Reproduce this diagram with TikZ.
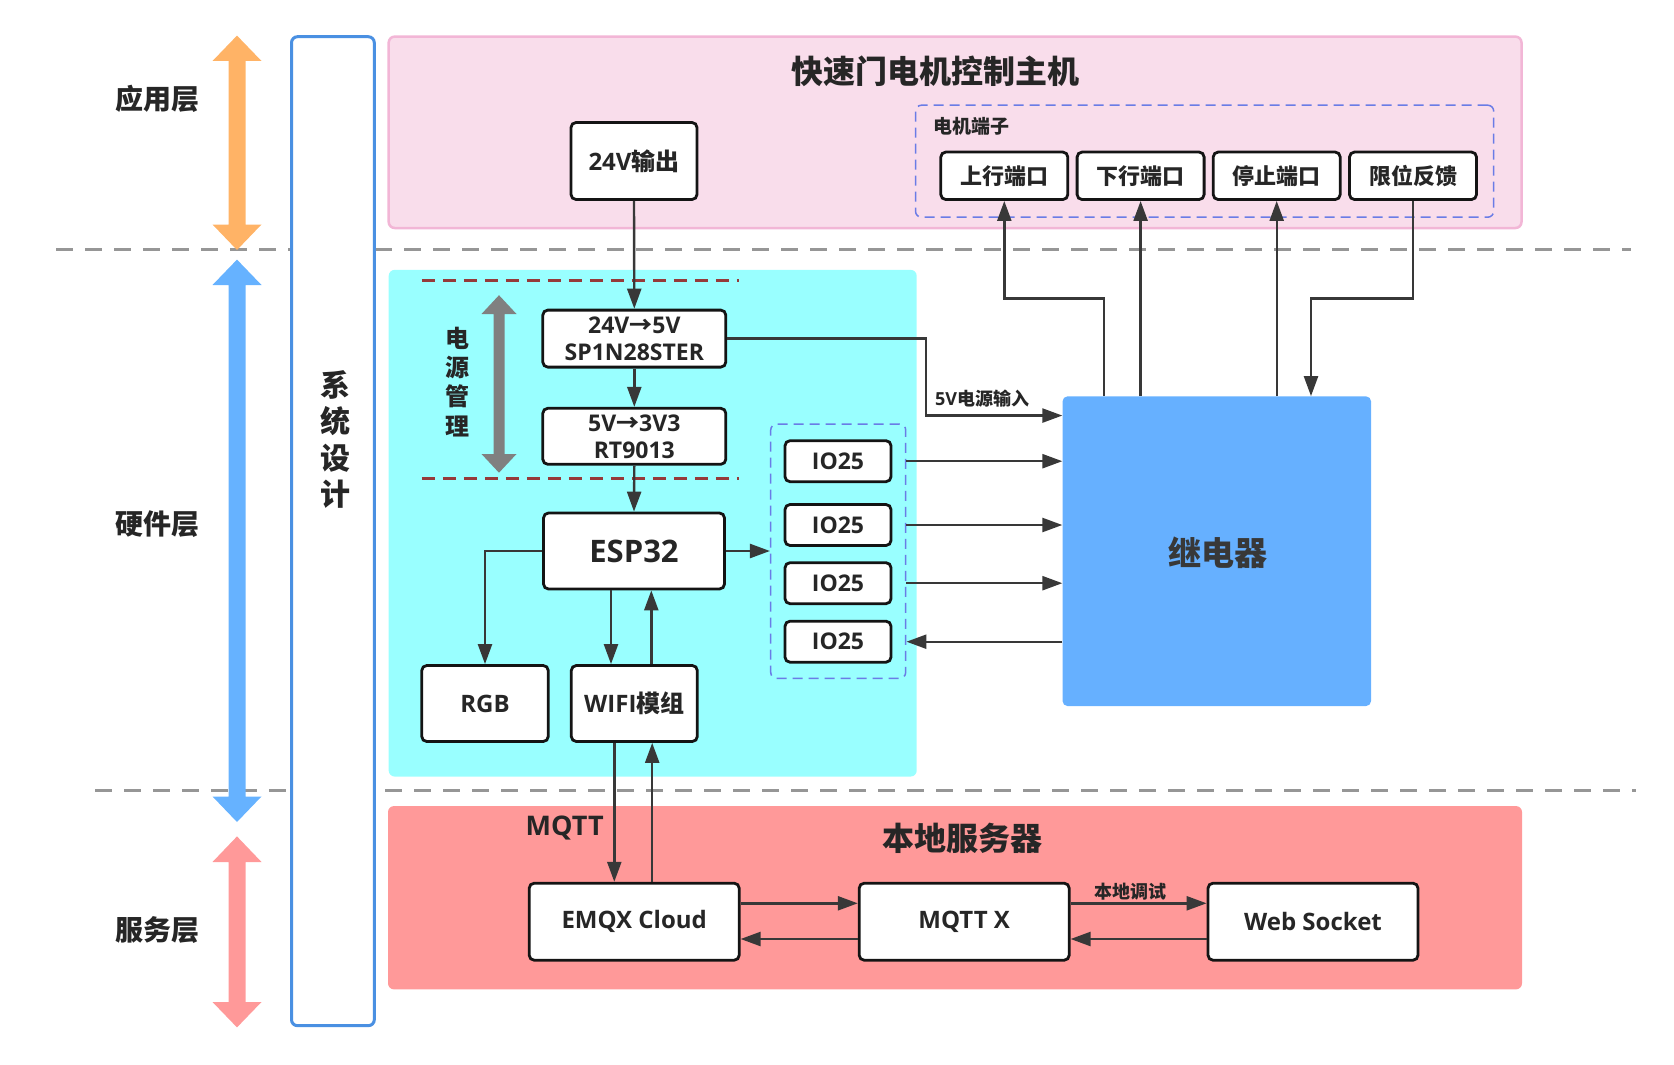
\documentclass[tikz,border=0pt]{standalone}
\usepackage{fontspec}
\setmainfont{Open Sans}
\newfontfamily\cjk{Noto Sans CJK SC}
\usetikzlibrary{arrows.meta}
\definecolor{txt}{HTML}{262626}
\definecolor{ln}{HTML}{383838}
\definecolor{pinkfill}{HTML}{F9DDEB}
\definecolor{pinkline}{HTML}{F2B6D6}
\definecolor{cyanfill}{HTML}{99FFFF}
\definecolor{relayblue}{HTML}{66B0FF}
\definecolor{redfill}{HTML}{FF9999}
\definecolor{orangearr}{HTML}{FFB366}
\definecolor{bluearr}{HTML}{66B2FF}
\definecolor{redarr}{HTML}{FF9999}
\definecolor{sysline}{HTML}{4A90E2}
\definecolor{graydash}{HTML}{969696}
\definecolor{browndash}{HTML}{963A3A}
\definecolor{grpdash}{HTML}{6A7CE6}
\definecolor{grayarr}{HTML}{808080}
\newcommand\myfs[1]{\fontsize{#1}{#1}\selectfont}
\tikzset{
  box/.style={draw=black!92, line width=2.8pt, fill=white, rounded corners=5pt, inner sep=0pt, text=txt},
  conn/.style={draw=ln, line width=2.4pt, -{Triangle[length=20pt,width=14pt]}},
  grpbox/.style={draw=grpdash, line width=1.5pt, dash pattern=on 10pt off 6pt, rounded corners=6pt, inner sep=0pt},
  layerlbl/.style={text=txt, font={\cjk\bfseries\myfs{28}}, inner sep=0pt},
  sepline/.style={draw=graydash, line width=3pt, dash pattern=on 17pt off 12pt},
  pwrline/.style={draw=browndash, line width=3pt, dash pattern=on 13pt off 8pt},
  plain/.style={text=txt, inner sep=0pt}
}
\begin{document}
\begin{tikzpicture}[x=1pt,y=-1pt]
\useasboundingbox (0,0) rectangle (1674,1065);

% layer separators
\draw[sepline] (56,249.4) -- (1631,249.4);
\draw[sepline] (95,790.7) -- (1636,790.7);

% system design column
\node[draw=sysline, line width=3pt, fill=white, rounded corners=6pt, minimum width=82.8pt, minimum height=989pt, inner sep=0pt] (sys) at (332.9,531.2) {};
\node[plain, align=center, font={\cjk\bfseries\fontsize{30}{36.5}\selectfont}] (systxt) at (335,439.5) {系\\统\\设\\计};

% layer arrows
\fill[orangearr] (237,35.6) -- (261.5,61) -- (245.5,61) -- (245.5,224.5) -- (261.5,224.5) -- (237,250) -- (212.5,224.5) -- (228.5,224.5) -- (228.5,61) -- (212.5,61) -- cycle;
\fill[bluearr] (237,259.6) -- (261.5,285) -- (245.5,285) -- (245.5,796.5) -- (261.5,796.5) -- (237,822) -- (212.5,796.5) -- (228.5,796.5) -- (228.5,285) -- (212.5,285) -- cycle;
\fill[redarr] (237,836.4) -- (261.5,862) -- (245.5,862) -- (245.5,1002) -- (261.5,1002) -- (237,1027.4) -- (212.5,1002) -- (228.5,1002) -- (228.5,862) -- (212.5,862) -- cycle;

\node[layerlbl] (lapp) at (157.5,99) {应用层};
\node[layerlbl] (lhw) at (157.5,524) {硬件层};
\node[layerlbl] (lsrv) at (157.5,930) {服务层};

% background panels
\node[draw=pinkline, line width=2.5pt, fill=pinkfill, rounded corners=6pt, minimum width=1132.8pt, minimum height=191.4pt, inner sep=0pt] (host) at (955.1,132.3) {};
\node[fill=cyanfill, rounded corners=6pt, minimum width=528pt, minimum height=506.7pt, inner sep=0pt] (hw) at (652.7,523.2) {};
\node[fill=redfill, rounded corners=6pt, minimum width=1134pt, minimum height=183.3pt, inner sep=0pt] (srv) at (955,897.7) {};

\node[plain, font={\cjk\bfseries\myfs{32}}] (hosttitle) at (935,71) {快速门电机控制主机};
\node[plain, font={\cjk\bfseries\myfs{32}}] (srvtitle) at (962.8,838) {本地服务器};
\node[plain, font={\bfseries\myfs{27}}] (mqttlbl) at (564.7,827.7) {MQTT};

% power management marks
\draw[pwrline] (421.8,280.6) -- (739,280.6);
\draw[pwrline] (421.8,478.3) -- (739,478.3);
\fill[grayarr] (499,295.2) -- (516.5,314) -- (504.5,314) -- (504.5,454) -- (516.5,454) -- (499,472.7) -- (481.5,454) -- (493.5,454) -- (493.5,314) -- (481.5,314) -- cycle;
\node[plain, align=center, font={\cjk\bfseries\fontsize{24}{29.3}\selectfont}] (pwrtxt) at (457,381.7) {电\\源\\管\\理};

% group boxes
\node[grpbox, minimum width=578.2pt, minimum height=112pt] (mgrp) at (1204.6,161.2) {};
\node[plain, font={\cjk\bfseries\myfs{19}}, anchor=west] (mgrplbl) at (933,126.4) {电机端子};
\node[grpbox, minimum width=135pt, minimum height=254.3pt] (iogrp) at (838.2,551.2) {};

% boxes
\node[box, minimum width=126pt, minimum height=77pt, font={\bfseries\myfs{24}}] (out24) at (634,161) {24V{\cjk 输出}};
\node[box, minimum width=183pt, minimum height=57pt, align=center, font={\bfseries\fontsize{23}{27}\selectfont}] (conv1) at (634.3,338.6) {24V{\cjk →}5V\\SP1N28STER};
\node[box, minimum width=183pt, minimum height=56pt, align=center, font={\bfseries\fontsize{23}{27}\selectfont}] (conv2) at (634.3,436.3) {5V{\cjk →}3V3\\RT9013};
\node[box, minimum width=181pt, minimum height=76pt, font={\bfseries\myfs{31}}] (esp) at (634,551) {ESP32};
\node[box, minimum width=126.5pt, minimum height=76pt, font={\bfseries\myfs{24}}] (rgb) at (485,703.5) {RGB};
\node[box, minimum width=126pt, minimum height=76pt, font={\bfseries\myfs{24}}] (wifi) at (634.3,703.5) {WIFI{\cjk 模组}};

\node[box, minimum width=106pt, minimum height=41pt, font={\bfseries\myfs{23}}] (io1) at (838,461.2) {IO25};
\node[box, minimum width=106pt, minimum height=41pt, font={\bfseries\myfs{23}}] (io2) at (838,525) {IO25};
\node[box, minimum width=106pt, minimum height=41pt, font={\bfseries\myfs{23}}] (io3) at (838,583.2) {IO25};
\node[box, minimum width=106pt, minimum height=41pt, font={\bfseries\myfs{23}}] (io4) at (838,641.7) {IO25};

\node[box, minimum width=127pt, minimum height=47.5pt, font={\cjk\bfseries\myfs{22}}] (port1) at (1004.3,175.8) {上行端口};
\node[box, minimum width=127pt, minimum height=47.5pt, font={\cjk\bfseries\myfs{22}}] (port2) at (1140.6,175.8) {下行端口};
\node[box, minimum width=127pt, minimum height=47.5pt, font={\cjk\bfseries\myfs{22}}] (port3) at (1276.7,175.8) {停止端口};
\node[box, minimum width=127pt, minimum height=47.5pt, font={\cjk\bfseries\myfs{22}}] (port4) at (1413,175.8) {限位反馈};

\node[fill=relayblue, rounded corners=5pt, minimum width=308.5pt, minimum height=309.7pt, inner sep=0pt] (relay) at (1216.8,551.2) {};
\node[text=ln, inner sep=0pt, font={\cjk\bfseries\myfs{33}}] (relaytxt) at (1218,553) {继电器};

\node[box, minimum width=210pt, minimum height=77pt, font={\bfseries\myfs{24}}] (emqx) at (634.2,921.7) {EMQX Cloud};
\node[box, minimum width=210pt, minimum height=77pt, font={\bfseries\myfs{24}}] (mqttx) at (964.2,921.7) {MQTT X};
\node[box, minimum width=210pt, minimum height=77pt, font={\bfseries\myfs{24}}] (ws) at (1313,921.7) {Web Socket};

% connectors
\draw[conn] (out24.south) -- (conv1.north);
\draw[conn] (conv1.south) -- (conv2.north);
\draw[conn] (conv2.south) -- (esp.north);

\coordinate (k5v) at (926,338.6);
\draw[conn] (conv1.east) -- (k5v) |- ([yshift=-19.4pt]relay.north west);
\node[plain, anchor=west, font={\bfseries\myfs{18}}] (lbl5v) at (935,398.5) {5V{\cjk 电源输入}};

\draw[conn] (esp.east) -- (esp.east -| iogrp.west);
\draw[conn] (esp.west) -| (rgb.north);
\draw[conn] ([xshift=-23pt]esp.south) -- ([xshift=-23pt]esp.south |- wifi.north);
\draw[conn] ([xshift=17pt]wifi.north) -- ([xshift=17pt]wifi.north |- esp.south);
\draw[conn] ([xshift=-20pt]wifi.south) -- ([xshift=-20pt]wifi.south |- emqx.north);
\draw[conn] ([xshift=18pt]emqx.north) -- ([xshift=18pt]emqx.north |- wifi.south);

\draw[conn] (iogrp.east |- io1) -- (relay.west |- io1);
\draw[conn] (iogrp.east |- io2) -- (relay.west |- io2);
\draw[conn] (iogrp.east |- io3) -- (relay.west |- io3);
\draw[conn] (relay.west |- io4) -- (iogrp.east |- io4);

\coordinate (k1) at (1104,298.6);
\coordinate (k4) at (1311,298.6);
\draw[conn] (relay.north -| k1) -- (k1) -| (port1.south);
\draw[conn] (relay.north -| port2) -- (port2.south);
\draw[conn] (relay.north -| port3) -- (port3.south);
\draw[conn] (port4.south) |- (k4) -- (relay.north -| k4);

\draw[conn] ([yshift=18.4pt]emqx.east) -- ([yshift=18.4pt]mqttx.west);
\draw[conn] ([yshift=-17.3pt]mqttx.west) -- ([yshift=-17.3pt]emqx.east);
\draw[conn] ([yshift=18.4pt]mqttx.east) -- ([yshift=18.4pt]ws.west);
\draw[conn] ([yshift=-17.3pt]ws.west) -- ([yshift=-17.3pt]mqttx.east);
\node[plain, font={\cjk\bfseries\myfs{18}}] (lbldebug) at (1130.6,892) {本地调试};

\end{tikzpicture}
\end{document}
